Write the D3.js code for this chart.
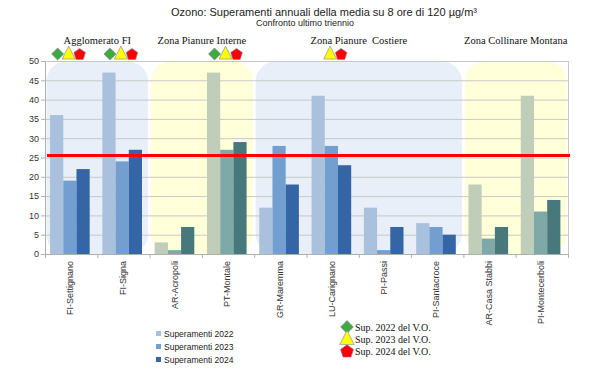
<!DOCTYPE html>
<html>
<head>
<meta charset="utf-8">
<style>
  body { margin: 0; background: #fff; }
  svg { display: block; }
</style>
</head>
<body>
<div id="chart"></div>
<script src="https://d3js.org/d3.v7.min.js"></script>
<script>
// stations and yearly counts of exceedances
var stations = ["FI-Settignano", "FI-Signa", "AR-Acropoli", "PT-Montale", "GR-Maremma",
                "LU-Carignano", "PI-Passi", "PI-Santacroce", "AR-Casa Stabbi", "PI-Montecerboli"];
var years = ["2022", "2023", "2024"];
var sup2022 = [36, 47, 3, 47, 12, 41, 12, 8, 18, 41];
var sup2023 = [19, 24, 1, 27, 28, 28, 1, 7, 4, 11];
var sup2024 = [22, 27, 7, 29, 18, 23, 7, 5, 7, 14];
// zone of each station
var stationZone = [0, 0, 1, 1, 2, 2, 2, 2, 3, 3];
var zoneNames = ["Agglomerato FI", "Zona Pianure Interne", "Zona Pianure  Costiere", "Zona Collinare Montana"];
var zoneStyle = [0, 1, 0, 1];
// V.O. exceeded flags per station, per year
var vo2022 = [1, 1, 0, 1, 0, 0, 0, 0, 0, 0];
var vo2023 = [1, 1, 0, 1, 0, 1, 0, 0, 0, 0];
var vo2024 = [1, 1, 0, 1, 0, 1, 0, 0, 0, 0];
var limit = 25.5;
var yTicks = [0, 5, 10, 15, 20, 25, 30, 35, 40, 45, 50];

var series = [sup2022, sup2023, sup2024];
var voFlags = [vo2022, vo2023, vo2024];

var W = 600, H = 388;
var margin = {top: 61, right: 32, bottom: 134, left: 45};
var width = W - margin.left - margin.right,
    height = H - margin.top - margin.bottom;

var blueCols = ["#a9c1dc", "#729fcf", "#3465a4"];
var greenCols = ["#bfcdb9", "#7fa8a8", "#47787c"];
var zoneFill = ["#e8eff8", "#ffffd9"];
var markerCols = ["#3faa3f", "#ffff00", "#ff0000"];

var svg = d3.select("#chart").append("svg")
    .attr("width", W).attr("height", H);

svg.append("text")
    .attr("x", 324).attr("y", 16)
    .attr("text-anchor", "middle")
    .style("font", "11px 'Liberation Sans', Arial, sans-serif")
    .attr("fill", "#222")
    .text("Ozono: Superamenti annuali della media su 8 ore di 120 µg/m³");
svg.append("text")
    .attr("x", 305).attr("y", 26)
    .attr("text-anchor", "middle")
    .style("font", "9px 'Liberation Sans', Arial, sans-serif")
    .attr("fill", "#222")
    .text("Confronto ultimo triennio");

var g = svg.append("g")
    .attr("transform", "translate(" + margin.left + "," + margin.top + ")");

var x = d3.scaleBand().domain(stations).range([0, width]).padding(0);
var xSub = d3.scaleBand().domain(years).range([0, x.bandwidth()])
    .paddingInner(0).paddingOuter(0.48).align(0.4);
var y = d3.scaleLinear().domain([0, 50]).range([height, 0]);

// zone backgrounds
var zones = zoneNames.map(function (name, i) {
  var idx = stations.filter(function (s, j) { return stationZone[j] === i; });
  return {name: name, first: idx[0], last: idx[idx.length - 1], style: zoneStyle[i]};
});

g.selectAll("rect.zone")
    .data(zones)
    .enter().append("rect")
    .attr("class", "zone")
    .attr("x", function (d) { return x(d.first) + 1.5; })
    .attr("y", 0.5)
    .attr("width", function (d) { return x(d.last) + x.bandwidth() - x(d.first) - 3; })
    .attr("height", height - 0.5)
    .attr("rx", 20).attr("ry", 20)
    .attr("fill", function (d) { return zoneFill[d.style]; });

// grid
g.selectAll("line.grid")
    .data(yTicks)
    .enter().append("line")
    .attr("class", "grid")
    .attr("x1", 0).attr("x2", width)
    .attr("y1", function (d) { return y(d) + 0.5; })
    .attr("y2", function (d) { return y(d) + 0.5; })
    .attr("stroke", "#c8c8c8").attr("stroke-width", 1);

g.append("line")
    .attr("x1", width + 0.5).attr("x2", width + 0.5)
    .attr("y1", 0).attr("y2", height)
    .attr("stroke", "#c8c8c8");

// bars
var groups = g.selectAll("g.station")
    .data(stations)
    .enter().append("g")
    .attr("class", "station")
    .attr("transform", function (d) { return "translate(" + x(d) + ",0)"; });

groups.selectAll("rect")
    .data(function (d, i) {
      return years.map(function (yr, k) {
        return {year: yr, k: k, value: series[k][i], style: zoneStyle[stationZone[i]]};
      });
    })
    .enter().append("rect")
    .attr("x", function (d) { return xSub(d.year); })
    .attr("width", xSub.bandwidth())
    .attr("y", function (d) { return y(d.value); })
    .attr("height", function (d) { return height - y(d.value); })
    .attr("fill", function (d) { return (d.style === 0 ? blueCols : greenCols)[d.k]; });

// axes
var yAxis = d3.axisLeft(y).tickValues(yTicks).tickSize(4).tickPadding(2);
var ya = g.append("g").call(yAxis);
ya.select(".domain").attr("stroke", "#b0b0b0");
ya.selectAll(".tick line").attr("stroke", "#b0b0b0");
ya.selectAll("text")
    .style("font", "9px 'Liberation Sans', Arial, sans-serif")
    .attr("fill", "#333");

var xa = g.append("g").attr("transform", "translate(0," + height + ")")
    .call(d3.axisBottom(x).tickSize(0).tickPadding(6));
xa.select(".domain").attr("stroke", "#b0b0b0");
xa.selectAll("text")
    .style("font", "9px 'Liberation Sans', Arial, sans-serif")
    .attr("fill", "#333")
    .attr("text-anchor", "end")
    .attr("transform", "rotate(-90)")
    .attr("x", -7).attr("y", -1).attr("dy", "0.35em");

// band boundary ticks
g.selectAll("line.btick")
    .data(stations.concat(["end"]))
    .enter().append("line")
    .attr("class", "btick")
    .attr("x1", function (d, i) { return i * x.bandwidth() + 0.5; })
    .attr("x2", function (d, i) { return i * x.bandwidth() + 0.5; })
    .attr("y1", height).attr("y2", height + 4)
    .attr("stroke", "#b0b0b0");

// limit line
g.append("line")
    .attr("x1", 2).attr("x2", width + 2)
    .attr("y1", y(limit)).attr("y2", y(limit))
    .attr("stroke", "#ff0000").attr("stroke-width", 3);

// zone labels
svg.selectAll("text.zone")
    .data(zones)
    .enter().append("text")
    .attr("x", function (d) { return margin.left + (x(d.first) + x(d.last) + x.bandwidth()) / 2; })
    .attr("y", 44)
    .attr("text-anchor", "middle")
    .style("font", "10.5px 'Liberation Serif', 'Times New Roman', serif")
    .attr("fill", "#111")
    .style("white-space", "pre")
    .text(function (d) { return d.name; });

// marker shapes
function markerPath(k, s) {
  if (k === 0) return d3.symbol().type(d3.symbolDiamond2).size(s * 1.3)();
  if (k === 1) return "M0," + (-s * 0.11) + "L" + (s * 0.09) + "," + (s * 0.07) + "L" + (-s * 0.09) + "," + (s * 0.07) + "Z";
  var pts = d3.range(5).map(function (j) {
    var a = -Math.PI / 2 + j * 2 * Math.PI / 5;
    return [Math.cos(a) * s * 0.085, Math.sin(a) * s * 0.085 + 0.5];
  });
  return "M" + pts.join("L") + "Z";
}

var markers = [];
stations.forEach(function (st, i) {
  voFlags.forEach(function (f, k) {
    if (f[i]) markers.push({st: st, k: k});
  });
});

g.selectAll("path.vo")
    .data(markers)
    .enter().append("path")
    .attr("class", "vo")
    .attr("transform", function (d) {
      return "translate(" + (x(d.st) + x.bandwidth() / 2 - 13.5 + d.k * 11) + "," + (-7) + ")";
    })
    .attr("d", function (d) { return markerPath(d.k, 72); })
    .attr("fill", function (d) { return markerCols[d.k]; })
    .attr("stroke", "#7a7aa8").attr("stroke-width", 0.6);

// legend left
var leg = svg.append("g").attr("transform", "translate(156,334)");
years.forEach(function (yr, k) {
  leg.append("rect")
      .attr("x", 0).attr("y", k * 13 - 3)
      .attr("width", 5).attr("height", 5)
      .attr("fill", blueCols[k]);
  leg.append("text")
      .attr("x", 8).attr("y", k * 13).attr("dy", "0.35em")
      .style("font", "8.5px 'Liberation Sans', Arial, sans-serif")
      .attr("fill", "#222")
      .text("Superamenti " + yr);
});

// legend right
var leg2 = svg.append("g").attr("transform", "translate(347,327)");
years.forEach(function (yr, k) {
  leg2.append("path")
      .attr("transform", "translate(0," + (k * 12) + ")")
      .attr("d", markerPath(k, 80))
      .attr("fill", markerCols[k])
      .attr("stroke", "#7a7aa8").attr("stroke-width", 0.6);
  leg2.append("text")
      .attr("x", 8).attr("y", k * 12).attr("dy", "0.35em")
      .style("font", "10px 'Liberation Serif', 'Times New Roman', serif")
      .attr("fill", "#111")
      .text("Sup. " + yr + " del V.O.");
});
</script>
</body>
</html>
